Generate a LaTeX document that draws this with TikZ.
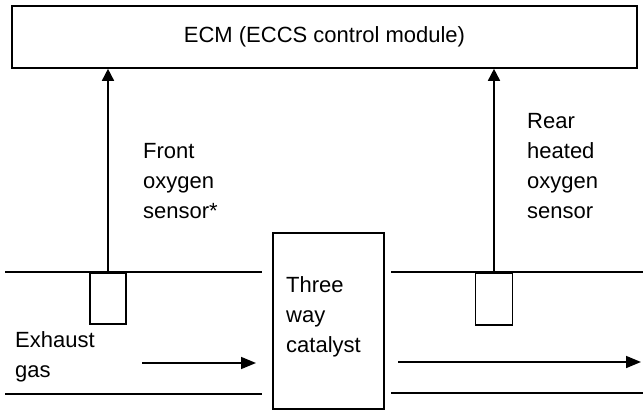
\documentclass[tikz,border=0pt]{standalone}
\usepackage{fontspec}
\setmainfont{Liberation Sans}
\usetikzlibrary{arrows.meta, positioning}

\begin{document}
\begin{tikzpicture}[
    x=1pt, y=-1pt,
    box/.style={draw, line width=1.6pt, inner sep=0pt},
    lbl/.style={anchor=north west, align=left, inner sep=0pt, font=\fontsize{22}{30}\selectfont},
    arr/.style={-{Triangle[length=#1, width=12pt]}, line width=1.6pt},
    arr/.default=13pt,
    pipe/.style={line width=1.6pt},
  ]
  \useasboundingbox (0,0) rectangle (643,410);
  \node[box, minimum width=625pt, minimum height=62pt, font=\fontsize{22}{30}\selectfont] (ecm) at (324.5,37) {ECM (ECCS control module)};
  \node[box, minimum width=36pt, minimum height=51pt, anchor=north] (front) at (108,272) {};
  \node[box, minimum width=37pt, minimum height=52pt, anchor=north] (rear) at (494,272) {};
  \node[box, minimum width=111pt, minimum height=176pt, anchor=north west] (cat) at (272,232) {};
  \node[lbl, below right=44pt and 14pt of cat.north west] (cattxt) {Three\\way\\catalyst};

  % labels
  \node[lbl] (fronttxt) at (143,143) {Front\\oxygen\\sensor*};
  \node[lbl] (reartxt) at (527,113) {Rear\\heated\\oxygen\\sensor};
  \node[lbl] (gastxt) at (15,331) {Exhaust\\gas};

  % exhaust pipe
  \draw[pipe] (5,272) -- (262,272) (5,394) -- (262,394);
  \draw[pipe] (391,272) -- (643,272) (391,393) -- (643,393);

  % signals
  \draw[arr=12pt] (front.north) -- (front.north |- ecm.south);
  \draw[arr=12pt] (rear.north) -- (rear.north |- ecm.south);

  % gas flow
  \coordinate (in1) at (142,363);
  \coordinate (in2) at (256,363);
  \coordinate (out1) at (398,362);
  \coordinate (out2) at (641,362);
  \draw[arr=15pt] (in1) -- (in2);
  \draw[arr=15pt] (out1) -- (out2);
\end{tikzpicture}
\end{document}
